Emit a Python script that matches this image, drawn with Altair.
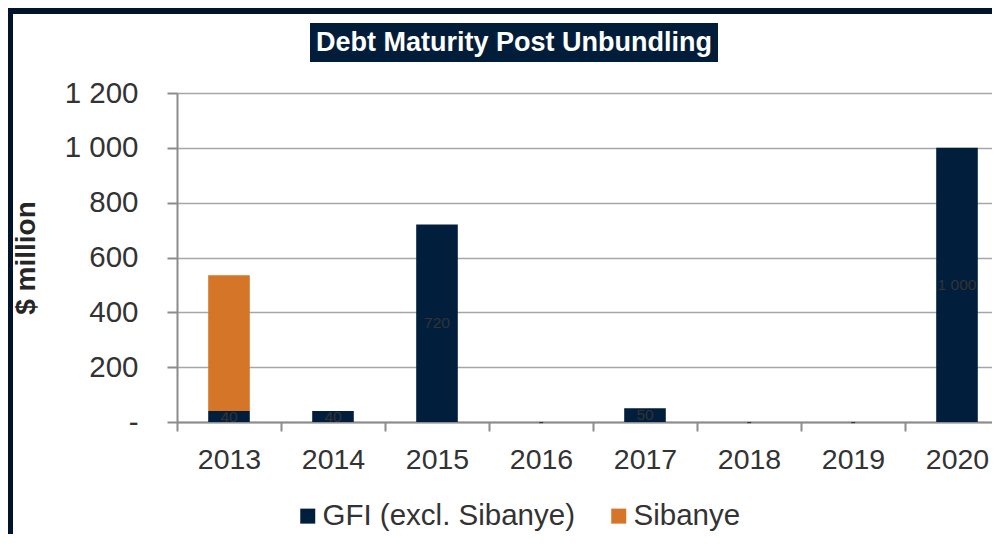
import altair as alt
import pandas as pd

FONT = "Liberation Sans"
GREY = "#8c8c8c"
TXT = "#333333"

years = ["2013", "2014", "2015", "2016", "2017", "2018", "2019", "2020"]
gfi = [40, 40, 720, 0, 50, 0, 0, 1000]
sibanye = [495, 0, 0, 0, 0, 0, 0, 0]
series = ["GFI (excl. Sibanye)", "Sibanye"]
colors = ["#011f3d", "#d57527"]
y_ticks = [0, 200, 400, 600, 800, 1000, 1200]
title_text = "Debt Maturity Post Unbundling"
y_title = "$ million"

rows = []
for i, yr in enumerate(years):
    rows.append({"year": yr, "series": series[0], "value": gfi[i], "order": 0})
    if sibanye[i] > 0:
        rows.append({"year": yr, "series": series[1], "value": sibanye[i], "order": 1})
df = pd.DataFrame(rows)
lab = pd.DataFrame({"year": years, "value": gfi})
one = pd.DataFrame({"d": [0]})

fmt = "datum.value == 0 ? '-' : replace(format(datum.value, ','), ',', ' ')"

x_enc = alt.X(
    "year:N", sort=years,
    scale=alt.Scale(range=[0, 832], paddingInner=0, paddingOuter=0),
    axis=alt.Axis(title=None, tickBand="extent", labelFontSize=28.5, labelColor=TXT,
                  labelFont=FONT, labelPadding=14, labelAngle=0, tickSize=9, tickWidth=2,
                  tickColor=GREY, domainColor=GREY, domainWidth=2, grid=False),
)

bars = alt.Chart(df).mark_bar(width=alt.RelativeBandSize(0.4)).encode(
    x=x_enc,
    y=alt.Y("value:Q", stack="zero",
            scale=alt.Scale(domain=[0, 1200], nice=False),
            axis=alt.Axis(values=y_ticks, labelExpr=fmt, labelFontSize=29.5, labelColor=TXT,
                          labelFont=FONT, labelPadding=29, tickSize=10, tickWidth=2,
                          tickColor=GREY, domainColor=GREY, domainWidth=2,
                          gridColor="#a6a6a6", gridWidth=1.5,
                          title=y_title, titleFontSize=28, titleFontWeight="bold",
                          titleFont=FONT, titleColor="#262626", titleX=-151, titleY=164.5,
                          titleAngle=270, titleAlign="center", titleBaseline="middle")),
    color=alt.Color("series:N", scale=alt.Scale(domain=series, range=colors),
                    legend=alt.Legend(title=None, orient="none", legendX=116, legendY=408,
                                      direction="horizontal", symbolType="square",
                                      symbolSize=225, symbolStrokeWidth=0,
                                      labelFontSize=29.5, labelColor=TXT, labelFont=FONT,
                                      labelOffset=0, labelLimit=500, columnPadding=29,
                                      padding=0)),
    order=alt.Order("order:Q"),
)

labels = alt.Chart(lab).transform_calculate(
    mid="datum.value / 2",
    txt=fmt,
).mark_text(fontSize=15.5, color=TXT, font=FONT, baseline="middle", align="center").encode(
    x=alt.X("year:N", sort=years),
    y=alt.Y("mid:Q"),
    text="txt:N",
)

top_band = alt.Chart(one).mark_rect(color="#00142b").encode(
    x=alt.value(-177), x2=alt.value(850), y=alt.value(-87), y2=alt.value(-79))
left_band = alt.Chart(one).mark_rect(color="#00142b").encode(
    x=alt.value(-169), x2=alt.value(-164), y=alt.value(-79), y2=alt.value(460))
title_box = alt.Chart(one).mark_rect(color="#011d3a").encode(
    x=alt.value(133), x2=alt.value(541), y=alt.value(-70), y2=alt.value(-31))
title = alt.Chart(one).mark_text(text=title_text, color="white", fontSize=27, fontWeight="bold",
                                 font=FONT, align="center", baseline="middle").encode(
    x=alt.value(337), y=alt.value(-50))

chart = alt.layer(bars, labels, top_band, left_band, title_box, title).properties(
    width=815, height=329,
    autosize=alt.AutoSizeParams(type="none"),
    padding={"left": 169, "top": 85, "right": 0, "bottom": 112},
    background="white",
).configure_view(stroke=None).configure(font=FONT)

chart.save("out.html", embed_options={"renderer": "svg", "actions": False})
